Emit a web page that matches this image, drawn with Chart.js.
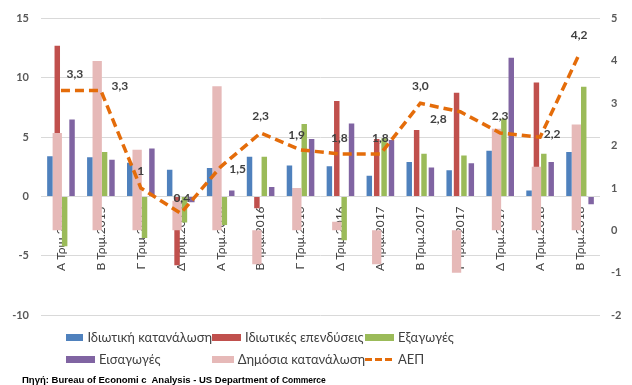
<!DOCTYPE html>
<html>
<head>
<meta charset="utf-8">
<script src="https://cdn.jsdelivr.net/npm/chart.js@4.4.0/dist/chart.umd.min.js"></script>
<style>
  body { margin: 0; background: #fff; }
  #wrap { position: relative; width: 632px; height: 385px; font-family: Lato, sans-serif; }
  #legend { position: absolute; left: 66px; top: 328px; display: grid; grid-template-columns: 146px 153px auto; row-gap: 4px; font-size: 13px; color: #404040; }
  .item { display: flex; align-items: center; height: 18px; white-space: nowrap; }
  .sw { width: 29px; height: 7px; margin-right: 4px; }
  .dash { width: 27px; height: 3px; margin-right: 6px; }
  #source { position: absolute; left: 22px; top: 374px; font: bold 9.5px 'Liberation Sans Narrow', 'Liberation Sans', sans-serif; color: #000; white-space: nowrap; }
  #source span { font-size: 8.5px; }
</style>
</head>
<body>
<div id="wrap">
  <canvas id="chart" width="632" height="385"></canvas>
  <div id="legend"></div>
  <div id="source">Πηγή: Bureau of Economi c&nbsp; Analysis - US Department of <span>Commerce</span></div>
</div>
<script>
const labels = ['Α Τριμ.2015', 'Β Τριμ.2015', 'Γ Τριμ.2015', 'Δ Τριμ.2015',
                'Α Τριμ.2016', 'Β Τριμ.2016', 'Γ Τριμ.2016', 'Δ Τριμ.2016',
                'Α Τριμ.2017', 'Β Τριμ.2017', 'Γ Τριμ.2017', 'Δ Τριμ.2017',
                'Α Τριμ.2018', 'Β Τριμ.2018'];

// αριστερός άξονας
const privCons = [3.4, 3.3, 2.85, 2.25, 2.4, 3.35, 2.6, 2.55, 1.75, 2.9, 2.2, 3.85, 0.5, 3.75];
const privInv  = [12.7, 1.5, 1.0, -5.8, -1.0, -1.0, 0.3, 8.05, 4.85, 5.6, 8.75, 3.0, 9.6, 1.5];
const exportsG = [-4.2, 3.75, -3.5, -2.2, -2.4, 3.35, 6.1, -3.7, 4.9, 3.6, 3.45, 6.55, 3.6, 9.25];
const importsG = [6.5, 3.1, 4.05, -0.5, 0.5, 0.8, 4.85, 6.15, 4.75, 2.45, 2.8, 11.7, 2.9, -0.65];

// δεξιός άξονας
const govCons = [2.3, 4.0, 1.9, 0.7, 3.4, -0.8, 1.0, 0.2, -0.8, 0.0, -1.0, 2.4, 1.5, 2.5];
const gdp     = [3.3, 3.3, 1.0, 0.4, 1.5, 2.3, 1.9, 1.8, 1.8, 3.0, 2.8, 2.3, 2.2, 4.2];
const gdpText = ['3,3', '3,3', '1', '0,4', '1,5', '2,3', '1,9', '1,8', '1,8', '3,0', '2,8', '2,3', '2,2', '4,2'];

// θέση ετικετών ΑΕΠ σε σχέση με το σημείο
const labelOffsets = [[14, -16], [19, -4], [0, -17], [1, -15], [17, 2], [0, -17], [-4, -15],
                      [-1, -16], [0, -16], [0, -17], [-22, 7], [0, -17], [12, -3], [-1, -17]];

const tickFont = { family: 'Lato', size: 11, weight: 'bold' };

const lineLabels = {
    id: 'lineLabels',
    afterDatasetsDraw(chart) {
        const idx = chart.data.datasets.findIndex(d => d.type === 'line');
        const meta = chart.getDatasetMeta(idx);
        const ctx = chart.ctx;
        ctx.save();
        ctx.font = 'bold 12px Lato';
        ctx.fillStyle = '#404040';
        ctx.textAlign = 'center';
        ctx.textBaseline = 'middle';
        meta.data.forEach((pt, i) => {
            const [dx, dy] = labelOffsets[i];
            ctx.fillText(gdpText[i], pt.x + dx, pt.y + dy);
        });
        ctx.restore();
    }
};

// κάθε σειρά στη δική της στήλη (stack), η Δημόσια κατανάλωση μοιράζεται τη θέση των επενδύσεων
const bar = (label, data, color, stack, rank) => ({
    type: 'bar', label, data, backgroundColor: color, stack, rank,
    categoryPercentage: 0.74, barPercentage: 0.74
});

const chart = new Chart(document.getElementById('chart'), {
    data: {
        labels: labels,
        datasets: [
            bar('Ιδιωτική κατανάλωση', privCons, '#4F81BD', 'a', 0),
            {
                type: 'bar', label: 'Δημόσια κατανάλωση', data: govCons, backgroundColor: '#E6B9B8',
                stack: 'b', rank: 4, yAxisID: 'y1', categoryPercentage: 0.74, barPercentage: 1.26
            },
            bar('Ιδιωτικές επενδύσεις', privInv, '#C0504D', 'b', 1),
            bar('Εξαγωγές', exportsG, '#9BBB59', 'c', 2),
            bar('Εισαγωγές', importsG, '#8064A2', 'd', 3),
            {
                type: 'line', label: 'ΑΕΠ', data: gdp, rank: 5, borderColor: '#E46C0A', borderWidth: 3.5,
                borderDash: [9, 5], pointRadius: 0, fill: false, tension: 0, yAxisID: 'y1', order: -1
            }
        ]
    },
    options: {
        responsive: false,
        animation: false,
        layout: { padding: { top: 17, bottom: 70, left: 0, right: 0 } },
        plugins: { legend: { display: false }, tooltip: { enabled: false } },
        scales: {
            x: {
                type: 'category', offset: true, position: { y: 0 }, z: 1,
                grid: { display: false, drawTicks: false }, border: { display: false },
                ticks: { minRotation: 90, maxRotation: 90, autoSkip: false, padding: 10, color: '#404040',
                         font: { family: 'Lato', size: 12 } },
                afterFit: s => { s.height = 0; }
            },
            y: {
                position: 'left', min: -10, max: 15,
                ticks: { stepSize: 5, padding: 12, color: '#595959', font: tickFont },
                grid: { color: '#D9D9D9', drawTicks: false }, border: { display: false },
                afterFit: s => { s.width = 41; }
            },
            y1: {
                position: 'right', min: -2, max: 5,
                ticks: { stepSize: 1, padding: 11, color: '#595959', font: tickFont },
                grid: { display: false, drawTicks: false }, border: { display: false },
                afterFit: s => { s.width = 32; }
            }
        }
    },
    plugins: [lineLabels]
});

// υπόμνημα σε πλέγμα 3 στηλών
const legend = document.getElementById('legend');
chart.data.datasets.slice().sort((a, b) => a.rank - b.rank).forEach(d => {
    const item = document.createElement('div');
    item.className = 'item';
    const sw = document.createElement('span');
    if (d.type === 'line') {
        sw.className = 'dash';
        sw.style.background = 'repeating-linear-gradient(90deg, ' + d.borderColor + ' 0 7px, transparent 7px 10px)';
    } else {
        sw.className = 'sw';
        sw.style.background = d.backgroundColor;
    }
    item.appendChild(sw);
    item.appendChild(document.createTextNode(d.label));
    legend.appendChild(item);
});
</script>
</body>
</html>
